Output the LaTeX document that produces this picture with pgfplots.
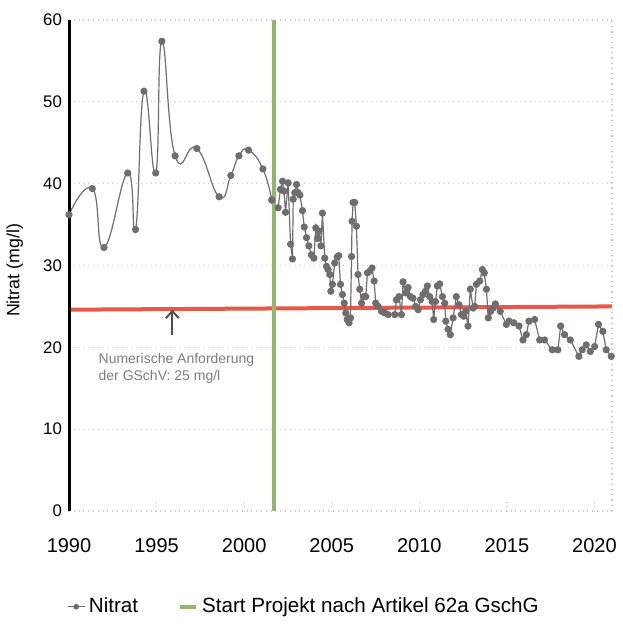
\documentclass[border=0pt]{standalone}
\usepackage{fontspec}
\setmainfont{Liberation Sans}
\usepackage{pgfplots}
\pgfplotsset{compat=1.18}
\usetikzlibrary{arrows.meta}
\definecolor{nitrat}{RGB}{112,109,108}
\definecolor{grenz}{RGB}{229,88,74}
\definecolor{projekt}{RGB}{143,183,112}
\definecolor{gridgray}{RGB}{200,200,200}
\definecolor{anno}{RGB}{125,125,125}

\begin{document}
\begin{tikzpicture}
\begin{axis}[
  name=ax,
  scale only axis, width=271.5pt, height=245.5pt,
  xmin=1990, xmax=2021, ymin=0, ymax=60,
  xtick={1990,1995,...,2020}, ytick={0,10,...,60},
  xtick pos=bottom, tick align=inside, major tick length=6pt,
  xtick style={gridgray, dotted, line width=0.6pt},
  ytick style={draw=none},
  ymajorgrids, grid style={gridgray, dotted, line width=0.6pt},
  axis line style={draw=none},
  clip=false,
  /pgf/number format/assume math mode=true,
  xticklabel style={font=\fontsize{10}{12}\selectfont, /pgf/number format/1000 sep={}, yshift=-10pt},
  yticklabel style={font=\fontsize{8.4}{10}\selectfont},
  ylabel={Nitrat (mg/l)},
  ylabel style={font=\fontsize{8.9}{10}\selectfont, at={(axis description cs:-0.1,0.49)}, anchor=center},
  legend columns=2,
  legend cell align=left,
  legend style={draw=none, fill=none, at={(axis description cs:0.435,-0.195)}, anchor=center,
    font=\fontsize{10.3}{12}\selectfont,
    /tikz/every even column/.append style={column sep=18pt}},
  legend image code/.code={\draw[mark repeat=2,mark phase=2,mark size=1.1pt,#1] plot coordinates {(-3pt,0pt) (1pt,0pt) (5pt,0pt)};},
]
% numerische Anforderung
\addplot[grenz, line width=2pt, forget plot] coordinates {(1990,24.6) (2021,25.0)};

% Nitrat bis 2001 (geglaettet)
\addplot[nitrat, line width=0.6pt, smooth, tension=0.85, mark=*, mark size=1.5pt, mark options={fill=nitrat, draw=nitrat}]
coordinates {
(1990.0,36.2) (1991.33,39.4) (1992.0,32.2) (1993.35,41.3) (1993.8,34.4)
(1994.28,51.3) (1994.95,41.3) (1995.3,57.4) (1996.06,43.4) (1997.3,44.3)
(1998.57,38.4) (1999.24,41.0) (1999.7,43.4) (2000.25,44.1) (2001.07,41.8)
(2001.58,38.0)
};
\addlegendentry{Nitrat}

% Nitrat ab 2001
\addplot[nitrat, line width=0.6pt, mark=*, mark size=1.5pt, mark options={fill=nitrat, draw=nitrat}, forget plot]
coordinates {
(2001.58,38.0) (2001.94,37.05) (2002.07,39.3) (2002.19,40.3) (2002.27,39.1)
(2002.36,36.5) (2002.51,40.1) (2002.65,32.6) (2002.76,30.8) (2002.80,38.1)
(2002.89,38.9) (2002.99,39.9) (2003.08,38.9) (2003.18,38.6) (2003.33,36.7)
(2003.43,34.7) (2003.56,33.4) (2003.69,32.4) (2003.84,31.3) (2003.98,30.9)
(2004.09,34.6) (2004.19,33.3) (2004.28,34.2) (2004.38,32.4) (2004.47,36.4)
(2004.60,30.9) (2004.70,29.9) (2004.79,29.5) (2004.89,28.9) (2004.95,26.85)
(2005.04,27.7) (2005.17,30.3) (2005.31,31.05) (2005.40,31.2) (2005.50,27.7)
(2005.61,26.45) (2005.71,25.4) (2005.80,24.2) (2005.88,23.4) (2005.99,23.0)
(2006.07,23.6) (2006.13,31.1) (2006.16,35.4) (2006.22,37.7) (2006.31,37.7)
(2006.41,34.8) (2006.50,28.9) (2006.60,27.1) (2006.70,25.4) (2006.83,26.2)
(2006.94,26.2) (2007.04,29.1) (2007.17,29.3) (2007.30,29.7) (2007.42,28.1)
(2007.51,25.4) (2007.65,25.0) (2007.84,24.4) (2008.03,24.2) (2008.22,24.0)
(2008.60,24.0) (2008.69,25.8) (2008.84,26.2) (2008.98,24.0) (2009.07,28.0)
(2009.22,26.65) (2009.36,27.3) (2009.49,26.2) (2009.64,26.0) (2009.79,25.0)
(2009.93,24.6) (2010.06,25.8) (2010.21,26.45) (2010.35,26.85) (2010.46,27.5)
(2010.59,26.2) (2010.73,25.6) (2010.82,23.4) (2010.92,25.6) (2011.03,27.5)
(2011.16,27.75) (2011.32,26.2) (2011.45,25.4) (2011.51,23.2) (2011.64,22.2)
(2011.77,21.55) (2011.93,23.6) (2012.11,26.2) (2012.27,25.2) (2012.40,24.0)
(2012.53,23.8) (2012.65,24.4) (2012.78,22.6) (2012.91,27.1) (2013.07,24.8)
(2013.16,25.0) (2013.26,27.7) (2013.45,28.1) (2013.60,29.5) (2013.71,29.1)
(2013.83,27.1) (2013.94,23.6) (2014.07,24.4) (2014.21,24.8) (2014.34,25.3)
(2014.62,24.4) (2014.97,22.8) (2015.12,23.2) (2015.39,23.0) (2015.69,22.6)
(2015.92,20.9) (2016.11,21.55) (2016.26,23.2) (2016.58,23.4) (2016.87,20.9)
(2017.15,20.9) (2017.59,19.7) (2017.91,19.7) (2018.07,22.6) (2018.29,21.55)
(2018.62,20.9) (2019.11,18.9) (2019.30,19.7) (2019.53,20.3) (2019.76,19.5)
(2020.01,20.1) (2020.23,22.8) (2020.48,21.95) (2020.67,19.7) (2020.96,18.9)
};

% Projektstart
\addplot[projekt, line width=2pt] coordinates {(2001.7,0) (2001.7,60)};
\addlegendentry{Start Projekt nach Artikel 62a GschG}

\draw[black, line width=1.5pt] (axis cs:1990,0) -- (axis cs:1990,60);
\draw[gridgray, dotted, line width=0.6pt] (axis cs:2021,0) -- (axis cs:2021,60);

\draw[-{Straight Barb[length=3.5pt,width=6.5pt]}, color={rgb,255:red,80;green,80;blue,80}, line width=1pt]
  (axis cs:1995.9,21.5) -- (axis cs:1995.9,24.6);
\node[anchor=north west, inner sep=0pt, align=left, text=anno, font=\fontsize{7}{8.5}\selectfont]
  at (axis cs:1991.67,19.3) {Numerische Anforderung\\der GSchV: 25 mg/l};
\end{axis}
\pgfresetboundingbox
\path ([xshift=-34.5pt,yshift=-60pt]ax.south west) rectangle ([xshift=5pt,yshift=10pt]ax.north east);
\end{tikzpicture}
\end{document}
